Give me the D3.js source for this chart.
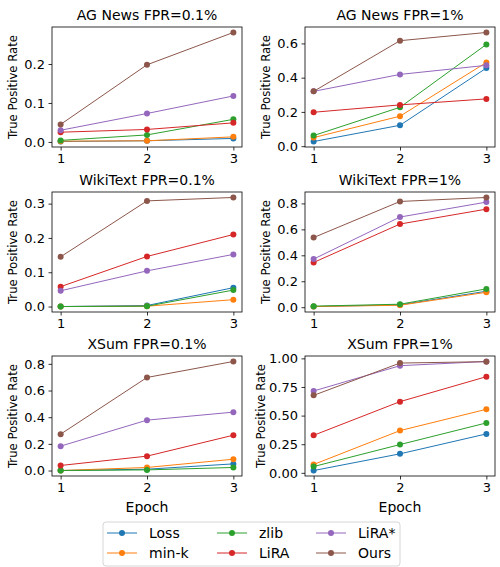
<!DOCTYPE html>
<html>
<head>
<meta charset="utf-8">
<script src="https://cdn.jsdelivr.net/npm/d3@7"></script>
<style>
  body { margin: 0; background: #fff; }
  svg text { font-family: "DejaVu Sans", sans-serif; fill: #000; }
</style>
</head>
<body>
<svg id="chart" width="500" height="567"></svg>
<script>
// methods and epochs
var methods = ["Loss", "min-k", "zlib", "LiRA", "LiRA*", "Ours"];
var epochs = [1, 2, 3];
var colors = ["#1f77b4", "#ff7f0e", "#2ca02c", "#d62728", "#9467bd", "#8c564b"];

var titles = ["AG News FPR=0.1%", "AG News FPR=1%", "WikiText FPR=0.1%", "WikiText FPR=1%", "XSum FPR=0.1%", "XSum FPR=1%"];

// true positive rate per method (rows follow methods order)
var agnews_01 = [
  [0.001, 0.003, 0.009],
  [0.002, 0.003, 0.013],
  [0.004, 0.018, 0.058],
  [0.025, 0.032, 0.049],
  [0.030, 0.073, 0.118],
  [0.045, 0.198, 0.281]
];
var agnews_1 = [
  [0.027, 0.122, 0.456],
  [0.050, 0.175, 0.489],
  [0.062, 0.227, 0.594],
  [0.198, 0.241, 0.276],
  [0.320, 0.419, 0.472],
  [0.320, 0.616, 0.664]
];
var wikitext_01 = [
  [0.000, 0.003, 0.055],
  [0.000, 0.001, 0.020],
  [0.000, 0.001, 0.048],
  [0.058, 0.146, 0.210],
  [0.046, 0.104, 0.152],
  [0.145, 0.308, 0.318]
];
var wikitext_1 = [
  [0.005, 0.018, 0.123],
  [0.005, 0.015, 0.115],
  [0.008, 0.023, 0.141],
  [0.345, 0.641, 0.756],
  [0.371, 0.695, 0.810],
  [0.537, 0.815, 0.846]
];
var xsum_01 = [
  [0.000, 0.010, 0.050],
  [0.000, 0.023, 0.085],
  [0.000, 0.005, 0.023],
  [0.038, 0.108, 0.265],
  [0.183, 0.378, 0.438],
  [0.273, 0.698, 0.818]
];
var xsum_1 = [
  [0.020, 0.166, 0.340],
  [0.073, 0.369, 0.555],
  [0.055, 0.247, 0.436],
  [0.328, 0.622, 0.840],
  [0.715, 0.936, 0.973],
  [0.677, 0.959, 0.971]
];
var panels = [agnews_01, agnews_1, wikitext_01, wikitext_1, xsum_01, xsum_1];

// y tick values per panel
var yticks = [
  [0, 0.1, 0.2],
  [0, 0.2, 0.4, 0.6],
  [0, 0.1, 0.2, 0.3],
  [0, 0.2, 0.4, 0.6, 0.8],
  [0, 0.2, 0.4, 0.6, 0.8],
  [0, 0.25, 0.5, 0.75, 1.0]
];
var ytickFmt = [".1f", ".1f", ".1f", ".1f", ".1f", ".2f"];

var svg = d3.select("#chart");

var colLeft = [52, 305], rowTop = [27, 192, 356];
var pw = 190, ph = 120;

panels.forEach(function(data, i){
  var c = i % 2, r = Math.floor(i / 2);
  var g = svg.append("g")
    .attr("transform", "translate(" + colLeft[c] + "," + rowTop[r] + ")");

  var x = d3.scaleLinear().domain([0.9, 3.1]).range([0, pw]);
  var all = d3.merge(data);
  var lo = d3.min(all), hi = d3.max(all), pad = (hi - lo) * 0.05;
  var y = d3.scaleLinear().domain([lo - pad, hi + pad]).range([ph, 0]);

  var xa = d3.axisBottom(x).tickValues(epochs).tickFormat(d3.format("d")).tickSize(3.5).tickPadding(3.5);
  var ya = d3.axisLeft(y).tickValues(yticks[i]).tickFormat(d3.format(ytickFmt[i])).tickSize(3.5).tickPadding(3.5);

  var gx = g.append("g").attr("transform", "translate(0," + ph + ")").call(xa);
  var gy = g.append("g").call(ya);
  [gx, gy].forEach(function(a){
    a.select(".domain").remove();
    a.selectAll(".tick line").attr("stroke", "#000").attr("stroke-width", 0.8);
    a.selectAll(".tick text").attr("font-size", 13).attr("font-family", "DejaVu Sans");
  });

  var line = d3.line().x(function(d, j){ return x(epochs[j]); }).y(function(d){ return y(d); });

  data.forEach(function(s, k){
    g.append("path")
      .attr("d", line(s))
      .attr("fill", "none")
      .attr("stroke", colors[k])
      .attr("stroke-width", 1);
    g.selectAll(null).data(s).enter().append("circle")
      .attr("cx", function(d, j){ return x(epochs[j]); })
      .attr("cy", function(d){ return y(d); })
      .attr("r", 3)
      .attr("fill", colors[k]);
  });

  g.append("rect")
    .attr("width", pw).attr("height", ph)
    .attr("fill", "none").attr("stroke", "#000").attr("stroke-width", 0.8);

  g.append("text")
    .attr("x", pw / 2).attr("y", -7)
    .attr("text-anchor", "middle")
    .attr("font-size", 14)
    .text(titles[i]);

  var ylx = (i == 5) ? -44 : -39;
  g.append("text")
    .attr("transform", "translate(" + ylx + "," + ph / 2 + ") rotate(-90)")
    .attr("text-anchor", "middle")
    .attr("dy", "0.35em")
    .attr("font-size", 11.7)
    .text("True Positive Rate");

  if (r == 2) {
    g.append("text")
      .attr("x", pw / 2).attr("y", ph + 36)
      .attr("text-anchor", "middle")
      .attr("font-size", 14)
      .text("Epoch");
  }
});

// legend
var legend = svg.append("g").attr("transform", "translate(103,522)");
legend.append("rect")
  .attr("width", 297).attr("height", 44).attr("rx", 3)
  .attr("fill", "#fff").attr("stroke", "#ccc").attr("stroke-width", 0.8);

var legCols = [4, 114, 213];
methods.forEach(function(m, k){
  var lg = legend.append("g")
    .attr("transform", "translate(" + legCols[Math.floor(k / 2)] + "," + (11 + (k % 2) * 20) + ")");
  lg.append("line").attr("x1", 0).attr("x2", 30).attr("stroke", colors[k]).attr("stroke-width", 1);
  lg.append("circle").attr("cx", 15).attr("r", 3).attr("fill", colors[k]);
  lg.append("text").attr("x", 42).attr("dy", "0.35em").attr("font-size", 14).text(m);
});
</script>
</body>
</html>
